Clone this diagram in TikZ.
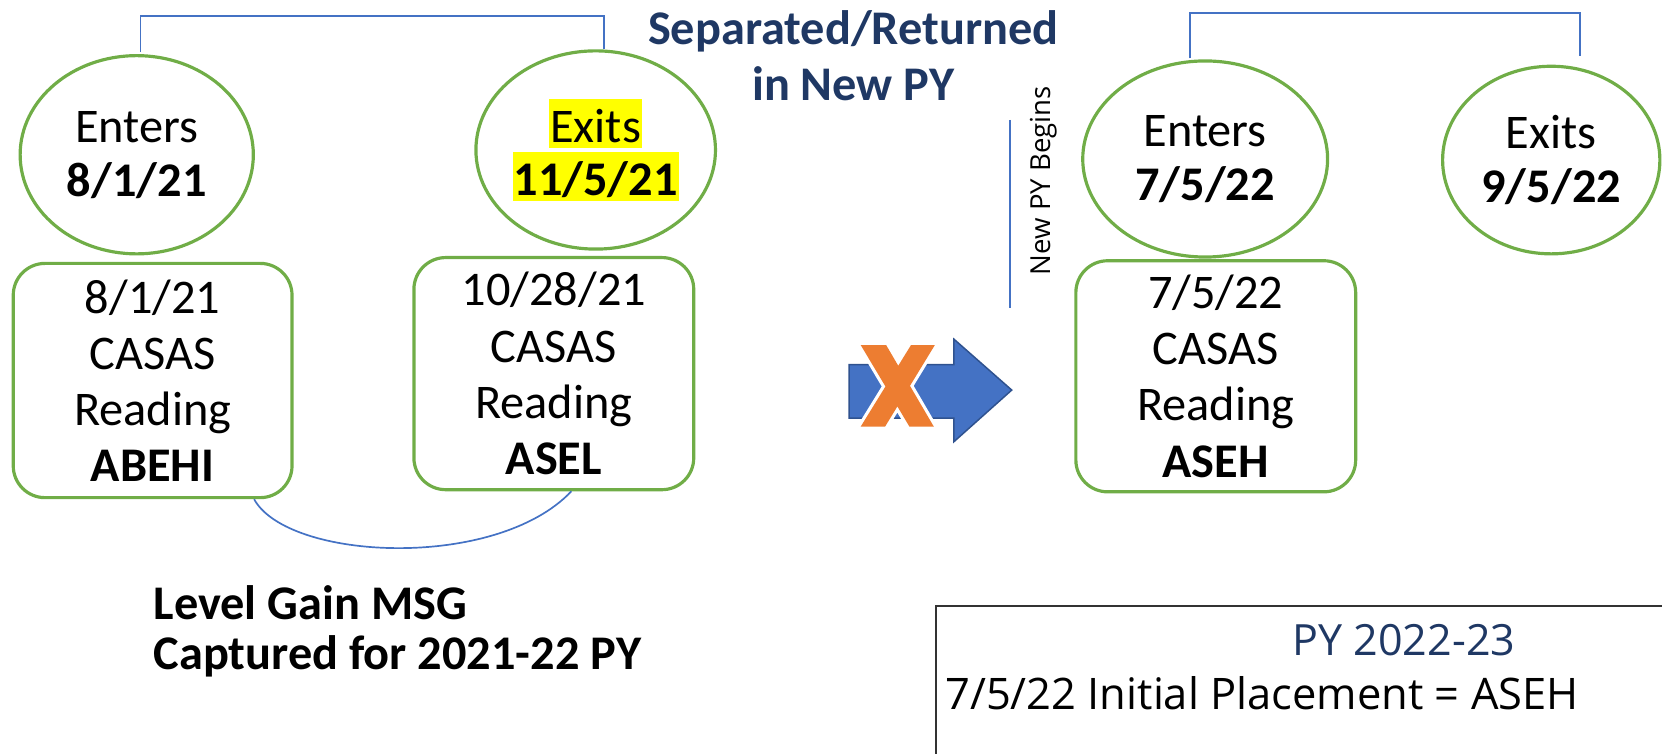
\documentclass[tikz,border=0pt]{standalone}
\usepackage{fontspec}
\setmainfont{Carlito}
\newfontfamily\osans{Open Sans}
\usetikzlibrary{shapes.geometric,calc}
\definecolor{grn}{HTML}{70AD47}
\definecolor{lblue}{HTML}{4472C4}
\definecolor{dblue}{HTML}{2F528F}
\definecolor{navy}{HTML}{1F3864}
\definecolor{orng}{HTML}{ED7D31}
\definecolor{hl}{HTML}{FFFF00}
\newcommand\myhl[1]{\colorbox{hl}{\rule[-2.5pt]{0pt}{22.5pt}#1}}
\begin{document}
\begin{tikzpicture}[x=0.5pt,y=-0.5pt,
  every node/.style={font=\fontsize{22.8}{26.5}\selectfont},
  circ/.style={ellipse,draw=grn,line width=1.5pt,inner sep=0pt,align=center,font=\fontsize{22.8}{25.5}\selectfont},
  rbox/.style={rectangle,rounded corners=15pt,draw=grn,line width=1.5pt,align=center,inner sep=0pt,font=\fontsize{22.8}{26.5}\selectfont},
  link/.style={draw=lblue,line width=0.8pt},
  navytxt/.style={text=navy,font=\bfseries\fontsize{22.8}{26}\selectfont,align=center},
  boldtxt/.style={anchor=west,inner sep=0pt,font=\bfseries\fontsize{22.8}{26.5}\selectfont},
]
\useasboundingbox (0,0) rectangle (1568,711);
\setlength{\fboxsep}{0.5pt}
% circles
\node[circ,minimum width=110pt,minimum height=93.5pt] (lc) at (129,146) {Enters\\\textbf{8/1/21}};
\node[circ,minimum width=113pt,minimum height=93.5pt,font=\fontsize{22.8}{25}\selectfont] (rc) at (562,141.5) {\myhl{Exits}\\\myhl{\textbf{11/5/21}}};
\node[circ,minimum width=115.5pt,minimum height=92.5pt] (nc) at (1137,150) {Enters\\\textbf{7/5/22}};
\node[circ,minimum width=102.5pt,minimum height=88.5pt] (xc) at (1463.5,151) {Exits\\\textbf{9/5/22}};
% boxes
\node[rbox,minimum width=131.5pt,minimum height=110.5pt] (lb) at (144,359) {8/1/21\\CASAS\\Reading\\\textbf{ABEHI}};
\node[rbox,minimum width=132pt,minimum height=109.5pt] (rb) at (522.5,352.5) {10/28/21\\CASAS\\Reading\\\textbf{ASEL}};
\node[rbox,minimum width=132pt,minimum height=109pt] (nb) at (1147,355) {7/5/22\\CASAS\\Reading\\\textbf{ASEH}};
% brackets
\draw[link] ($(lc.north)+(3.5,-2)$) -- ++(0,-34) -| ($(rc.north)+(8,0)$);
\draw[link] ($(nc.north)+(-14,-1)$) -- ++(0,-42.5) -| ($(xc.north)+(27,-8)$);
% arc between boxes
\draw[link] ($(lb.south west)!0.86!(lb.south east)$) .. controls +(32,58) and +(-71,75) .. ($(rb.south west)!0.562!(rb.south east)$);
% title
\node[navytxt] (sep) at (805,52.6) {Separated/Returned\\in New PY};
% new PY begins
\coordinate (v1) at (953,113);
\coordinate (v2) at (953,290.6);
\draw[link] (v1) -- (v2);
\node[rotate=90,font=\osans\fontsize{13}{15}\selectfont,inner sep=0pt] (npy) at (985,170.5) {New PY Begins};
% crossed arrow
\fill[lblue,draw=dblue,line width=0.7pt] (801,344) -- (900,344) -- (900,320) -- (954.5,368) -- (900,416.7) -- (900,394.5) -- (801,394.5) -- cycle;
\draw[white,line width=3pt,line join=round]
  (812,325.5) -- (836,325.5) -- (881,402.5) -- (858,402.5) -- cycle
  (859.5,325.5) -- (882,325.5) -- (835,402.5) -- (812,402.5) -- cycle;
\fill[orng]
  (812,325.5) -- (836,325.5) -- (881,402.5) -- (858,402.5) -- cycle
  (859.5,325.5) -- (882,325.5) -- (835,402.5) -- (812,402.5) -- cycle;
% left texts
\node[boldtxt] (lg1) at (144.5,569) {Level Gain MSG};
\node[boldtxt] (lg2) at (144.5,619.5) {Captured for 2021-22 PY};
% PY box
\node[draw=black!80,line width=1.1pt,anchor=north west,minimum width=360pt,minimum height=90pt,inner sep=0pt] (pybox) at (882,570.8) {};
\node[text=navy,inner sep=0pt,font=\osans\fontsize{20.3}{24}\selectfont] (py) at (1324.5,604) {PY 2022-23};
\node[anchor=west,inner sep=0pt,font=\osans\fontsize{20.5}{24}\selectfont] (ip) at (891.4,654) {7/5/22 Initial Placement = ASEH};
\end{tikzpicture}
\end{document}
